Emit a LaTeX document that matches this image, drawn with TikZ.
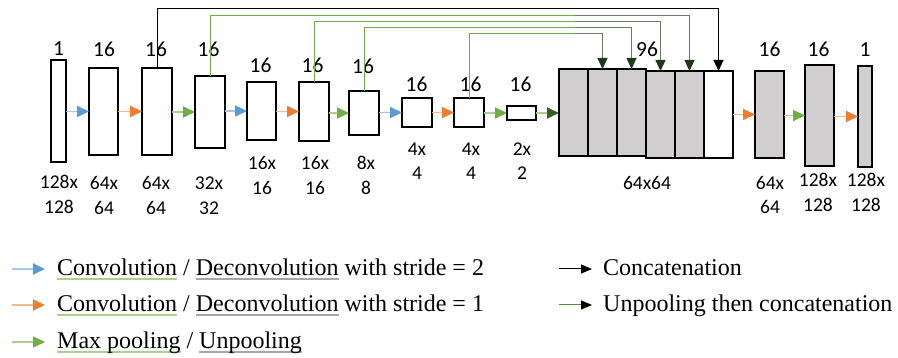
\documentclass[tikz,border=0pt]{standalone}
\usepackage{fontspec}
\setmainfont{Liberation Serif}
\newfontfamily\calfont{Carlito}
\usetikzlibrary{arrows.meta}
\definecolor{cblue}{HTML}{5B9BD5}
\definecolor{corange}{HTML}{ED7D31}
\definecolor{cgreen}{HTML}{70AD47}
\definecolor{cgray}{HTML}{D0CECE}
\definecolor{ulgreen}{HTML}{A9D18E}
\definecolor{ulgray}{HTML}{A6A6A6}
\definecolor{dkgreen}{HTML}{22361C}
\definecolor{mgreen}{HTML}{6B7B66}
\newsavebox\ulbox
\newcommand\ulc[2]{\sbox\ulbox{#2}\rlap{\color{#1}\rule[-4.5pt]{\wd\ulbox}{2pt}}\usebox\ulbox}
\begin{document}
\begin{tikzpicture}[x=1pt,y=-1pt,
  box/.style={draw=black, line width=1.5pt, inner sep=0pt, outer sep=0pt},
  gbox/.style={box, fill=cgray},
  labtop/.style={font=\calfont\fontsize{21.5}{24}\selectfont, inner sep=0pt, anchor=base},
  labbot/.style={font=\calfont\fontsize{19.5}{22}\selectfont, inner sep=0pt, anchor=base},
  legtext/.style={font=\fontsize{24}{28}\selectfont, inner sep=0pt, anchor=base west},
  arrblue/.style={draw=cblue!55, line width=1.8pt, -{Triangle[length=12pt,width=11pt,color=cblue]}},
  arrorange/.style={draw=corange!55, line width=1.8pt, -{Triangle[length=12pt,width=11pt,color=corange]}},
  arrgreen/.style={draw=cgreen!60, line width=1.8pt, -{Triangle[length=12pt,width=11pt,color=cgreen]}},
  arrgreendk/.style={draw=cgreen!60, line width=1.8pt, -{Triangle[length=12pt,width=11pt,color=dkgreen!70!cgreen]}},
  skipblack/.style={draw=black, line width=1pt, -{Triangle[length=11pt,width=10pt]}},
  skipgreen/.style={draw=cgreen, line width=1pt},
  skipdark/.style={draw=mgreen, line width=1pt, -{Triangle[length=11pt,width=10pt,color=dkgreen]}},
]
\path[use as bounding box] (0,0) rectangle (898,358);

% encoder / decoder boxes
\node[box, minimum width=15pt, minimum height=102pt] (b1) at (58.5,111) {};
\node[box, minimum width=29pt, minimum height=87pt] (b2) at (103.5,111.5) {};
\node[box, minimum width=30pt, minimum height=87pt] (b3) at (157,111.5) {};
\node[box, minimum width=30pt, minimum height=72pt] (b4) at (210,112) {};
\node[box, minimum width=29pt, minimum height=58pt] (b5) at (261.5,111) {};
\node[box, minimum width=30pt, minimum height=59pt] (b6) at (314,111.5) {};
\node[box, minimum width=30pt, minimum height=44pt] (b7) at (364,113) {};
\node[box, minimum width=30pt, minimum height=29pt] (b8) at (417,112.5) {};
\node[box, minimum width=30pt, minimum height=29pt] (b9) at (469,112.5) {};
\node[box, minimum width=29pt, minimum height=14pt] (b10) at (521.5,113) {};
\node[gbox, minimum width=29pt, minimum height=87pt] (s1) at (573.5,112.5) {};
\node[gbox, minimum width=29pt, minimum height=87pt] (s2) at (602.5,112.5) {};
\node[gbox, minimum width=29pt, minimum height=87pt] (s3) at (631.5,112.5) {};
\node[gbox, minimum width=29pt, minimum height=87pt] (s4) at (660.5,114.5) {};
\node[gbox, minimum width=29pt, minimum height=87pt] (s5) at (689.5,114.5) {};
\node[box, fill=white, minimum width=29pt, minimum height=87pt] (s6) at (718.5,114.5) {};
\node[gbox, minimum width=29pt, minimum height=87pt] (b11) at (769.5,114.5) {};
\node[gbox, minimum width=29pt, minimum height=101pt] (b12) at (819.5,115.5) {};
\node[gbox, minimum width=14pt, minimum height=101pt] (b13) at (865,116.5) {};

% top labels
\node[labtop] (t1) at (58.5,56) {1};
\node[labtop] (t2) at (104,57) {16};
\node[labtop] (t3) at (156,57) {16};
\node[labtop] (t4) at (208.5,57) {16};
\node[labtop] (t5) at (260.5,73) {16};
\node[labtop] (t6) at (312.5,73) {16};
\node[labtop] (t7) at (363,74) {16};
\node[labtop] (t8) at (416.5,92) {16};
\node[labtop] (t9) at (470.5,92) {16};
\node[labtop] (t10) at (520.5,92) {16};
\node[labtop] (t96) at (647,57) {96};
\node[labtop] (t11) at (769.5,57) {16};
\node[labtop] (t12) at (818.5,57) {16};
\node[labtop] (t13) at (865,57) {1};

% bottom labels
\node[labbot] (u1a) at (59,189) {128x};  \node[labbot] (u1b) at (59,214) {128};
\node[labbot] (u2a) at (104,190) {64x};  \node[labbot] (u2b) at (104,215) {64};
\node[labbot] (u3a) at (156,190) {64x};  \node[labbot] (u3b) at (156,215) {64};
\node[labbot] (u4a) at (209,190) {32x};  \node[labbot] (u4b) at (209,215) {32};
\node[labbot] (u5a) at (262,170) {16x};  \node[labbot] (u5b) at (262,195) {16};
\node[labbot] (u6a) at (315,170) {16x};  \node[labbot] (u6b) at (315,195) {16};
\node[labbot] (u7a) at (366,170) {8x};   \node[labbot] (u7b) at (366,195) {8};
\node[labbot] (u8a) at (417,156) {4x};   \node[labbot] (u8b) at (417,180) {4};
\node[labbot] (u9a) at (471,156) {4x};   \node[labbot] (u9b) at (471,180) {4};
\node[labbot] (u10a) at (522,156) {2x};  \node[labbot] (u10b) at (522,180) {2};
\node[labbot] (ucc) at (647,190) {64x64};
\node[labbot] (u11a) at (770,190) {64x};  \node[labbot] (u11b) at (770,214) {64};
\node[labbot] (u12a) at (818,187) {128x}; \node[labbot] (u12b) at (818,212) {128};
\node[labbot] (u13a) at (866,187) {128x}; \node[labbot] (u13b) at (866,212) {128};

% forward arrows
\draw[arrblue]   (b1.east |- b2.west) -- (b2.west);
\draw[arrorange] (b2.east |- b3.west) -- (b3.west);
\draw[arrgreen]  (b3.east |- b4.west) -- (b4.west);
\draw[arrblue]   (b4.east |- b5.west) -- (b5.west);
\draw[arrorange] (b5.east |- b6.west) -- (b6.west);
\draw[arrgreen]  (b6.east |- b7.west) -- (b7.west);
\draw[arrblue]   (b7.east |- b8.west) -- (b8.west);
\draw[arrorange] (b8.east |- b9.west) -- (b9.west);
\draw[arrgreen]  (b9.east |- b10.west) -- (b10.west);
\draw[arrgreendk] (b10.east) -- (b10.east -| s1.west);
\draw[arrorange] (s6.east |- b11.west) -- (b11.west);
\draw[arrgreen]  (b11.east |- b12.west) -- (b12.west);
\draw[arrorange] (b12.east |- b13.west) -- (b13.west);

% skip connections
\coordinate (L1) at (0,9);
\coordinate (L2) at (0,16);
\coordinate (L3) at (0,22);
\coordinate (L4) at (0,28);
\coordinate (L5) at (0,34);
\coordinate (M) at (575,0);
\draw[skipblack] (b3.north) -- (b3.north |- L1) -- (s6.north |- L1) -- (s6.north);
\draw[skipgreen] (b4.north) -- (b4.north |- L2) -- (M |- L2);
\draw[skipdark]  (M |- L2) -- (s5.north |- L2) -- (s5.north);
\draw[skipgreen] (b6.north) -- (b6.north |- L3) -- (M |- L3);
\draw[skipdark]  (M |- L3) -- (s4.north |- L3) -- (s4.north);
\draw[skipgreen] (b7.north) -- (b7.north |- L4) -- (M |- L4);
\draw[skipdark]  (M |- L4) -- (s3.north |- L4) -- (s3.north);
\draw[skipgreen] (b9.north) -- (b9.north |- L5) -- (M |- L5);
\draw[skipdark]  (M |- L5) -- (s2.north |- L5) -- (s2.north);

% legend
\coordinate (g1a) at (12,269); \coordinate (g1b) at (45,269);
\coordinate (g2a) at (12,305); \coordinate (g2b) at (45,305);
\coordinate (g3a) at (12,342); \coordinate (g3b) at (45,342);
\coordinate (g4a) at (559,269); \coordinate (g4b) at (592,269);
\coordinate (g5a) at (559,305); \coordinate (g5b) at (592,305);
\draw[arrblue]   (g1a) -- (g1b);
\draw[arrorange] (g2a) -- (g2b);
\draw[arrgreen]  (g3a) -- (g3b);
\draw[draw=black, line width=1pt, -{Triangle[length=11pt,width=9pt]}] (g4a) -- (g4b);
\draw[draw=cgreen!80!black, line width=1pt, -{Triangle[length=11pt,width=9pt,color=black]}] (g5a) -- (g5b);
\node[legtext] (x1) at (57,276) {\ulc{ulgreen}{Convolution} / \ulc{ulgray}{Deconvolution} with stride = 2};
\node[legtext] (x2) at (57,312) {\ulc{ulgreen}{Convolution} / \ulc{ulgray}{Deconvolution} with stride = 1};
\node[legtext] (x3) at (57,348.5) {\ulc{ulgreen}{Max pooling} / \ulc{ulgray}{Unpooling}};
\node[legtext] (x4) at (603,276) {Concatenation};
\node[legtext] (x5) at (603,312) {Unpooling then concatenation};
\end{tikzpicture}
\end{document}
